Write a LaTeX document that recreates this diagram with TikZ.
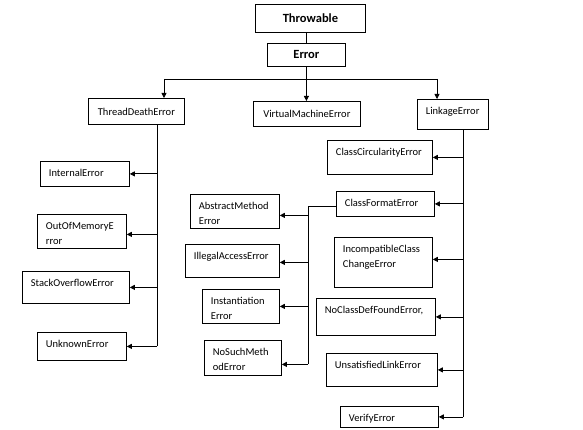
\documentclass[tikz,border=0pt]{standalone}
\usepackage{fontspec}
\setmainfont{Carlito}
\usetikzlibrary{arrows.meta}

\begin{document}
\begin{tikzpicture}[x=1pt,y=-1pt,line width=0.8pt,
    >={Triangle[length=5pt,width=5pt]},
    box/.style={draw,inner sep=0pt,anchor=north west,font=\fontsize{10.5}{15}\selectfont},
    boxtext/.style={anchor=north west,inner xsep=8.5pt,inner ysep=7.5pt,align=left,font=\fontsize{10.5}{15}\selectfont}]
    \useasboundingbox (0,0) rectangle (583,430);
    \node[box,minimum width=110pt,minimum height=28pt,font=\bfseries\fontsize{12.5}{15}\selectfont] (Throwable) at (255,4) {Throwable};
    \node[box,minimum width=78pt,minimum height=23pt,font=\bfseries\fontsize{12.5}{15}\selectfont] (Error) at (267,43) {Error};
    \node[box,minimum width=96pt,minimum height=26pt] (ThreadDeath) at (88,98) {ThreadDeathError};
    \node[box,minimum width=107pt,minimum height=25pt] (VM) at (253,101) {VirtualMachineError};
    \node[box,minimum width=71pt,minimum height=30pt,label={[boxtext]north west:LinkageError}] (Linkage) at (417,99) {};
    % ThreadDeathError side
    \node[box,minimum width=89pt,minimum height=25pt,label={[boxtext]north west:InternalError}] (Internal) at (40,161) {};
    \node[box,minimum width=89pt,minimum height=34pt,label={[boxtext]north west:{OutOfMemoryE\\rror}}] (OutOfMemory) at (37,214) {};
    \node[box,minimum width=107pt,minimum height=32pt,label={[boxtext]north west:StackOverflowError}] (StackOverflow) at (22,271) {};
    \node[box,minimum width=89pt,minimum height=28pt,label={[boxtext]north west:UnknownError}] (Unknown) at (37,332) {};
    % middle column
    \node[box,minimum width=89pt,minimum height=34pt,label={[boxtext]north west:{AbstractMethod\\Error}}] (Abstract) at (190,194) {};
    \node[box,minimum width=94pt,minimum height=33pt,label={[boxtext]north west:IllegalAccessError}] (Illegal) at (185,244) {};
    \node[box,minimum width=77pt,minimum height=34pt,label={[boxtext]north west:{Instantiation\\Error}}] (Instantiation) at (202,289) {};
    \node[box,minimum width=77pt,minimum height=35pt,label={[boxtext]north west:{NoSuchMeth\\odError}}] (NoSuchMethod) at (204,340) {};
    % LinkageError side
    \node[box,minimum width=105pt,minimum height=34pt,label={[boxtext]north west:ClassCircularityError}] (Circularity) at (327,140) {};
    \node[box,minimum width=98pt,minimum height=25pt,label={[boxtext]north west:ClassFormatError}] (Format) at (336,191) {};
    \node[box,minimum width=98pt,minimum height=50pt,label={[boxtext]north west:{IncompatibleClass\\ChangeError}}] (Incompatible) at (334,237) {};
    \node[box,minimum width=119pt,minimum height=37pt,label={[boxtext]north west:{NoClassDefFoundError,}}] (NoClassDef) at (316,298) {};
    \node[box,minimum width=111pt,minimum height=33pt,label={[boxtext]north west:UnsatisfiedLinkError}] (Unsatisfied) at (326,353) {};
    \node[box,minimum width=98pt,minimum height=21pt,label={[boxtext]north west:VerifyError}] (Verify) at (340,406) {};

    \draw (Error.north) -- (Error.north |- Throwable.south);
    \draw[->] (Error.south) -- (Error.south |- VM.north);
    \coordinate (busL) at (164,79);
    \coordinate (busR) at (437,79);
    \draw (busL) -- (busR);
    \draw[->] (busL) -- (busL |- ThreadDeath.north);
    \draw[->] (busR) -- (busR |- Linkage.north);

    \coordinate (tdTrunk) at (157,346);
    \draw (tdTrunk |- ThreadDeath.south) -- (tdTrunk);
    \foreach \n/\dy in {Internal/0pt,OutOfMemory/-3pt,StackOverflow/0pt,Unknown/0pt}
      \draw[->] ([yshift=\dy]\n.east -| tdTrunk) -- ([yshift=\dy]\n.east);

    \coordinate (mTrunk) at (308,364);
    \draw ([yshift=-2.5pt]Format.west) -| (mTrunk);
    \foreach \n/\dy in {Abstract/-4pt,Illegal/-1.5pt,Instantiation/0pt,NoSuchMethod/-6.5pt}
      \draw[->] ([yshift=\dy]\n.east -| mTrunk) -- ([yshift=\dy]\n.east);

    \coordinate (lkTrunk) at (463,416.5);
    \draw (lkTrunk |- Linkage.south) -- (lkTrunk);
    \foreach \n/\dy in {Circularity/0pt,Format/0pt,Incompatible/3pt,NoClassDef/0pt,Unsatisfied/0pt,Verify/0pt}
      \draw[->] ([yshift=\dy]\n.east -| lkTrunk) -- ([yshift=\dy]\n.east);
  \end{tikzpicture}
\end{document}
